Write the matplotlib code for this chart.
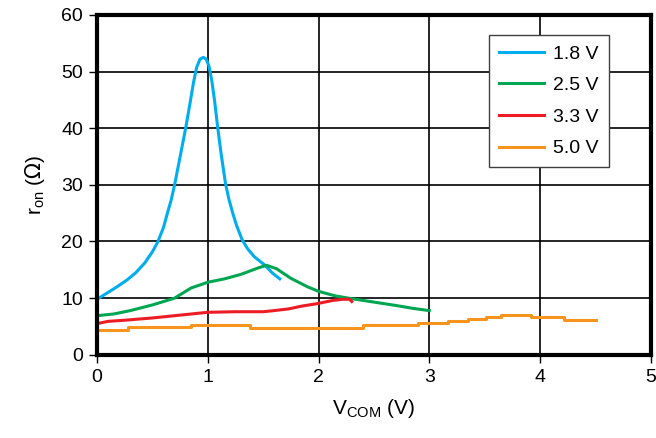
import numpy as np
import matplotlib.pyplot as plt

plt.rcParams['font.family'] = ['Liberation Sans', 'DejaVu Sans']

# 1.8 V supply
x18 = [0.0, 0.09, 0.18, 0.27, 0.35, 0.43, 0.50, 0.55, 0.60, 0.635, 0.67, 0.70, 0.75, 0.80,
       0.84, 0.87, 0.90, 0.93, 0.96, 0.985, 1.01, 1.035, 1.06, 1.09, 1.12, 1.16, 1.19, 1.225,
       1.26, 1.31, 1.36, 1.42, 1.51, 1.585, 1.65]
y18 = [9.8, 10.9, 12.0, 13.2, 14.5, 16.2, 18.2, 20.0, 22.5, 25.0, 27.4, 30.0, 35.0, 40.0,
       44.5, 48.0, 50.8, 52.2, 52.5, 52.2, 51.0, 48.5, 45.0, 40.0, 35.5, 30.2, 27.5, 25.0,
       22.8, 20.3, 18.7, 17.3, 15.9, 14.4, 13.4]

# 2.5 V supply
x25 = [0.0, 0.15, 0.3, 0.5, 0.7, 0.85, 1.0, 1.15, 1.3, 1.45, 1.53, 1.62, 1.75, 1.9, 2.0,
       2.15, 2.3, 2.5, 2.7, 2.85, 3.0]
y25 = [6.9, 7.2, 7.8, 8.8, 10.0, 11.8, 12.8, 13.4, 14.2, 15.3, 15.8, 15.2, 13.5, 12.0, 11.2,
       10.4, 9.9, 9.3, 8.7, 8.2, 7.8]

# 3.3 V supply
x33 = [0.0, 0.1, 0.25, 0.5, 0.75, 1.0, 1.25, 1.5, 1.6, 1.73, 1.85, 1.98, 2.13, 2.22, 2.28, 2.3]
y33 = [5.5, 5.9, 6.1, 6.5, 7.0, 7.5, 7.6, 7.6, 7.8, 8.1, 8.6, 9.0, 9.6, 9.8, 9.8, 9.4]

# 5.0 V supply (stepped)
x50 = [0.0, 0.28, 0.85, 1.38, 2.4, 2.9, 3.17, 3.35, 3.51, 3.65, 3.92, 4.22, 4.51]
y50 = [4.4, 4.9, 5.2, 4.8, 5.2, 5.6, 5.9, 6.3, 6.6, 7.0, 6.6, 6.2, 6.2]

fig = plt.figure(figsize=(6.56, 4.38), dpi=100)
ax = fig.add_axes([0.148, 0.19, 0.844, 0.776])

ax.plot(x18, y18, color='#00aeef', lw=2.2, label='1.8 V')
ax.plot(x25, y25, color='#00a651', lw=2.2, label='2.5 V')
ax.plot(x33, y33, color='#ed1c24', lw=2.2, label='3.3 V')
ax.plot(x50, y50, color='#f7941d', lw=2.2, drawstyle='steps-post', label='5.0 V')

ax.set_xlim(0, 5)
ax.set_ylim(0, 60)
ax.set_xticks(np.arange(0, 6, 1))
ax.set_yticks(np.arange(0, 70, 10))
ax.grid(True, color='black', lw=1.2)
ax.set_axisbelow(True)
for s in ax.spines.values():
    s.set_linewidth(3)
ax.tick_params(direction='out', length=6, width=1, labelsize=14, pad=4)

ax.set_xlabel(r'V$_{\mathregular{COM}}$ (V)', fontsize=15, labelpad=8)
ax.set_ylabel(r'r$_{\mathregular{on}}$ ($\Omega$)', fontsize=15, labelpad=10)

leg = ax.legend(loc='upper right', bbox_to_anchor=(0.924, 0.94), fontsize=14, frameon=True,
                fancybox=False, edgecolor='#404040', framealpha=1, handlelength=2.3,
                handletextpad=0.5, borderpad=0.5, labelspacing=0.72, borderaxespad=0)
leg.get_frame().set_linewidth(1)

plt.savefig('out.png', dpi=100)
